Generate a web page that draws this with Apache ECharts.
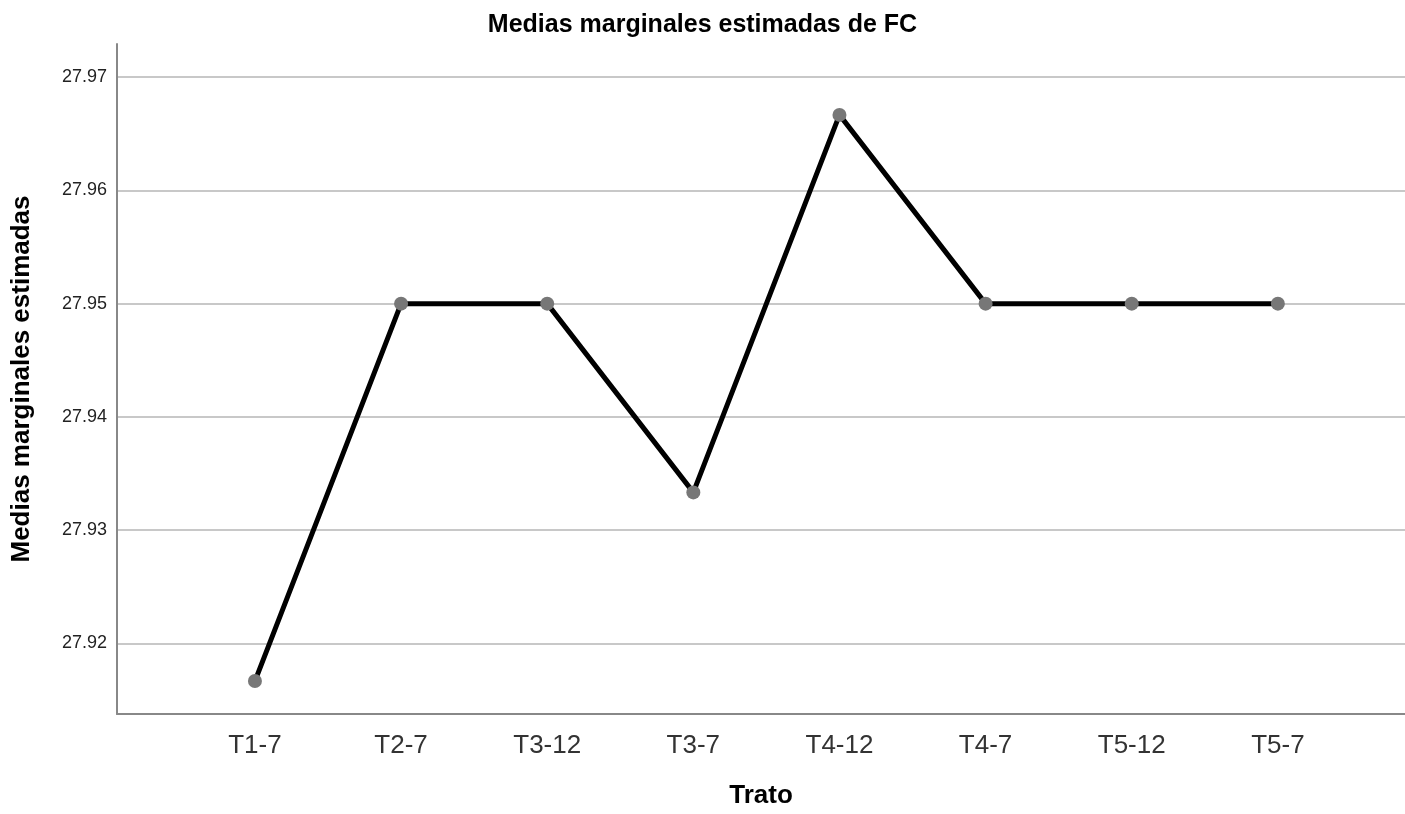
<!DOCTYPE html>
<html>
<head>
<meta charset="utf-8">
<script src="https://cdn.jsdelivr.net/npm/echarts@6/dist/echarts.min.js"></script>
<style>
  html, body { margin: 0; padding: 0; background: #fff; }
  #chart { width: 1405px; height: 814px; }
</style>
</head>
<body>
<div id="chart"></div>
<script>
// data
var categories = ["T1-7", "T2-7", "T3-12", "T3-7", "T4-12", "T4-7", "T5-12", "T5-7"];
var means = [27.91667, 27.95, 27.95, 27.93333, 27.96667, 27.95, 27.95, 27.95];
var yTicks = [27.92, 27.93, 27.94, 27.95, 27.96, 27.97];

var chart = echarts.init(document.getElementById("chart"));

var points = categories.map(function (c, i) {
  return [i, means[i]];
});

var option = {
  animation: false,
  backgroundColor: "#fff",
  title: {
    text: "Medias marginales estimadas de FC",
    left: "center",
    top: 8,
    textStyle: {
      fontFamily: "Liberation Sans, Arial",
      fontWeight: "bold",
      fontSize: 25,
      color: "#000",
    },
  },
  grid: {
    left: 117,
    right: 0,
    top: 44,
    bottom: 97,
  },
  xAxis: {
    type: "value",
    min: -0.944,
    max: 7.87,
    name: "Trato",
    nameLocation: "middle",
    nameGap: 69,
    nameTextStyle: {
      fontFamily: "Liberation Sans, Arial",
      fontWeight: "bold",
      fontSize: 26,
      color: "#000",
    },
    splitLine: { show: false },
    axisTick: { show: false },
    axisLine: {
      show: true,
      onZero: false,
      lineStyle: { color: "#888", width: 2 },
    },
    axisLabel: {
      customValues: categories.map(function (c, i) { return i; }),
      formatter: function (v) {
        return categories[Math.round(v)];
      },
      margin: 19,
      fontFamily: "Liberation Sans, Arial",
      fontSize: 26,
      color: "#333",
    },
  },
  yAxis: {
    type: "value",
    min: 27.91376,
    max: 27.97293,
    name: "Medias marginales estimadas",
    nameLocation: "middle",
    nameGap: 82,
    nameTextStyle: {
      fontFamily: "Liberation Sans, Arial",
      fontWeight: "bold",
      fontSize: 26,
      color: "#000",
    },
    axisTick: { show: false, customValues: yTicks },
    axisLine: {
      show: true,
      onZero: false,
      lineStyle: { color: "#888", width: 2 },
    },
    axisLabel: {
      customValues: yTicks,
      formatter: function (v) {
        return v.toFixed(2);
      },
      margin: 10,
      fontFamily: "Liberation Sans, Arial",
      fontSize: 18,
      color: "#222",
    },
    splitLine: {
      show: true,
      lineStyle: { color: "#c8c8c8", width: 2 },
    },
  },
  series: [
    {
      type: "line",
      data: points,
      symbol: "circle",
      symbolSize: 14,
      lineStyle: { color: "#000", width: 5 },
      itemStyle: { color: "#777" },
      z: 3,
    },
  ],
};
chart.setOption(option);
</script>
</body>
</html>
